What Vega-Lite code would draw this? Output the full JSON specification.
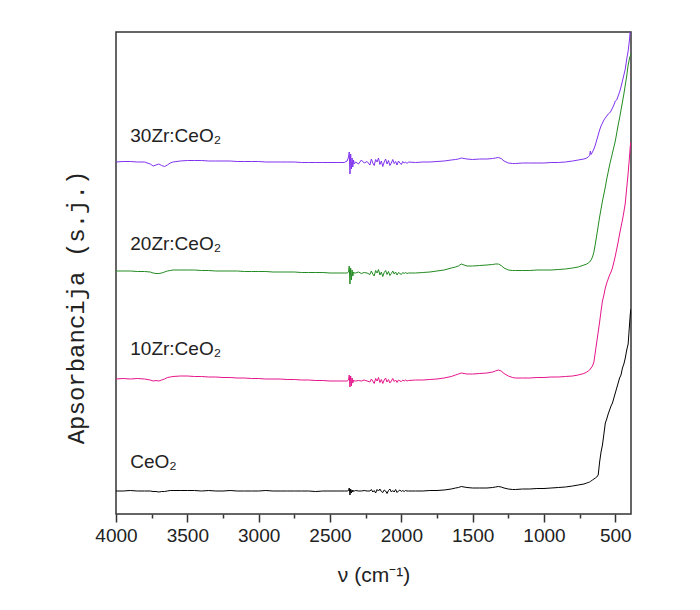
{
  "$schema": "https://vega.github.io/schema/vega-lite/v6.json",
  "width": 515,
  "height": 482,
  "autosize": {"type": "none"},
  "padding": {"left": 116, "top": 32, "right": 69, "bottom": 96},
  "background": "white",
  "config": {
    "view": {"stroke": "#333333", "strokeWidth": 1.5},
    "font": "Liberation Sans"
  },
  "resolve": {"axis": {"x": "independent"}},
  "layer": [
    {
      "data": {"values": [
        {"w":4000,"CeO2":23,"Z10":135,"Z20":243,"Z30":352},
        {"w":3950,"CeO2":23,"Z10":135.5,"Z20":243,"Z30":352.5},
        {"w":3900,"CeO2":23.5,"Z10":135,"Z20":243,"Z30":352.5},
        {"w":3850,"CeO2":23,"Z10":135.5,"Z20":242.5,"Z30":352},
        {"w":3800,"CeO2":23,"Z10":135,"Z20":242.5,"Z30":352},
        {"w":3760,"CeO2":23,"Z10":134,"Z20":242,"Z30":350},
        {"w":3740,"CeO2":22.5,"Z10":133,"Z20":241,"Z30":348},
        {"w":3720,"CeO2":22.5,"Z10":133.5,"Z20":240.5,"Z30":349},
        {"w":3700,"CeO2":22,"Z10":133,"Z20":240.5,"Z30":350},
        {"w":3680,"CeO2":22.5,"Z10":134,"Z20":241,"Z30":348.5},
        {"w":3660,"CeO2":22.5,"Z10":135,"Z20":242,"Z30":347.5},
        {"w":3640,"CeO2":23,"Z10":136.5,"Z20":243,"Z30":349},
        {"w":3620,"CeO2":23.5,"Z10":137,"Z20":243.5,"Z30":351},
        {"w":3600,"CeO2":23.5,"Z10":137.5,"Z20":244,"Z30":352},
        {"w":3550,"CeO2":23.5,"Z10":138,"Z20":244,"Z30":353},
        {"w":3500,"CeO2":23.5,"Z10":138,"Z20":244,"Z30":353.5},
        {"w":3450,"CeO2":23.5,"Z10":137.5,"Z20":244,"Z30":353.5},
        {"w":3400,"CeO2":23,"Z10":137.5,"Z20":243.5,"Z30":353.5},
        {"w":3350,"CeO2":23.5,"Z10":137,"Z20":243.5,"Z30":353},
        {"w":3300,"CeO2":23,"Z10":137,"Z20":243,"Z30":353},
        {"w":3250,"CeO2":23,"Z10":136.5,"Z20":243,"Z30":353},
        {"w":3200,"CeO2":23.5,"Z10":136.5,"Z20":243,"Z30":353},
        {"w":3150,"CeO2":23,"Z10":136,"Z20":243,"Z30":352.5},
        {"w":3100,"CeO2":23,"Z10":136,"Z20":242.5,"Z30":352.5},
        {"w":3050,"CeO2":23,"Z10":135.5,"Z20":242.5,"Z30":352.5},
        {"w":3000,"CeO2":23,"Z10":135.5,"Z20":242.5,"Z30":352.5},
        {"w":2950,"CeO2":23.5,"Z10":135,"Z20":242.5,"Z30":352},
        {"w":2900,"CeO2":23,"Z10":135,"Z20":242,"Z30":352},
        {"w":2850,"CeO2":23,"Z10":135,"Z20":242,"Z30":352},
        {"w":2800,"CeO2":23,"Z10":134.5,"Z20":242,"Z30":352},
        {"w":2750,"CeO2":23,"Z10":134.5,"Z20":242,"Z30":352},
        {"w":2700,"CeO2":23,"Z10":134,"Z20":241.5,"Z30":351.5},
        {"w":2650,"CeO2":23,"Z10":134,"Z20":241.5,"Z30":351.5},
        {"w":2600,"CeO2":22.5,"Z10":133.5,"Z20":241.5,"Z30":351.5},
        {"w":2550,"CeO2":23,"Z10":133.5,"Z20":241.5,"Z30":351.5},
        {"w":2500,"CeO2":23,"Z10":133,"Z20":241,"Z30":351.5},
        {"w":2450,"CeO2":23,"Z10":133,"Z20":241,"Z30":351.5},
        {"w":2400,"CeO2":23,"Z10":133,"Z20":241,"Z30":351.5},
        {"w":2380,"CeO2":23,"Z10":133,"Z20":241,"Z30":353},
        {"w":2370,"CeO2":23.5,"Z10":134,"Z20":242,"Z30":357},
        {"w":2365,"CeO2":26,"Z10":139,"Z20":248,"Z30":362},
        {"w":2360,"CeO2":19,"Z10":127,"Z20":230,"Z30":340},
        {"w":2355,"CeO2":25,"Z10":138,"Z20":246,"Z30":360},
        {"w":2350,"CeO2":21,"Z10":128,"Z20":234,"Z30":345},
        {"w":2345,"CeO2":24,"Z10":136,"Z20":244,"Z30":356},
        {"w":2340,"CeO2":22,"Z10":131,"Z20":238,"Z30":347},
        {"w":2335,"CeO2":23.5,"Z10":134,"Z20":242,"Z30":354},
        {"w":2330,"CeO2":23,"Z10":133,"Z20":241,"Z30":350},
        {"w":2320,"CeO2":23.5,"Z10":133,"Z20":241,"Z30":352},
        {"w":2300,"CeO2":23,"Z10":133.5,"Z20":242,"Z30":350},
        {"w":2280,"CeO2":23,"Z10":133,"Z20":240.5,"Z30":354},
        {"w":2260,"CeO2":23.5,"Z10":134,"Z20":241.5,"Z30":351},
        {"w":2240,"CeO2":23,"Z10":133,"Z20":241,"Z30":352.5},
        {"w":2220,"CeO2":23,"Z10":132,"Z20":239.5,"Z30":349},
        {"w":2210,"CeO2":24.5,"Z10":135,"Z20":243,"Z30":355},
        {"w":2200,"CeO2":22,"Z10":133,"Z20":240,"Z30":351},
        {"w":2190,"CeO2":23.5,"Z10":130.5,"Z20":238,"Z30":348.5},
        {"w":2180,"CeO2":21,"Z10":135.5,"Z20":243.5,"Z30":354.5},
        {"w":2170,"CeO2":24.5,"Z10":133,"Z20":241,"Z30":352},
        {"w":2160,"CeO2":23,"Z10":136.5,"Z20":244.5,"Z30":356},
        {"w":2150,"CeO2":25,"Z10":131.5,"Z20":239,"Z30":349.5},
        {"w":2140,"CeO2":22.5,"Z10":134.5,"Z20":242,"Z30":353},
        {"w":2130,"CeO2":21.5,"Z10":130.5,"Z20":237.5,"Z30":347.5},
        {"w":2120,"CeO2":24,"Z10":134,"Z20":241.5,"Z30":352},
        {"w":2110,"CeO2":23,"Z10":136,"Z20":243.5,"Z30":355},
        {"w":2100,"CeO2":20.5,"Z10":132,"Z20":239.5,"Z30":350},
        {"w":2090,"CeO2":23.5,"Z10":134.5,"Z20":242.5,"Z30":353.5},
        {"w":2080,"CeO2":25,"Z10":131,"Z20":238.5,"Z30":348.5},
        {"w":2070,"CeO2":22,"Z10":133,"Z20":240.5,"Z30":351},
        {"w":2060,"CeO2":23.5,"Z10":135.5,"Z20":243,"Z30":354.5},
        {"w":2050,"CeO2":22,"Z10":132.5,"Z20":240,"Z30":350.5},
        {"w":2040,"CeO2":24.5,"Z10":134,"Z20":242,"Z30":352.5},
        {"w":2030,"CeO2":21.5,"Z10":131.5,"Z20":239,"Z30":349},
        {"w":2020,"CeO2":23,"Z10":134,"Z20":241.5,"Z30":353},
        {"w":2010,"CeO2":24,"Z10":133,"Z20":240.5,"Z30":351},
        {"w":2000,"CeO2":22.5,"Z10":132.5,"Z20":239.5,"Z30":349.5},
        {"w":1990,"CeO2":23.5,"Z10":134,"Z20":241.5,"Z30":352.5},
        {"w":1980,"CeO2":22.5,"Z10":133,"Z20":240.5,"Z30":351},
        {"w":1970,"CeO2":23.5,"Z10":134,"Z20":241.5,"Z30":352},
        {"w":1960,"CeO2":23,"Z10":133,"Z20":240.5,"Z30":350.5},
        {"w":1950,"CeO2":23,"Z10":133.5,"Z20":241,"Z30":352},
        {"w":1900,"CeO2":23,"Z10":134,"Z20":241,"Z30":351.5},
        {"w":1850,"CeO2":23,"Z10":134,"Z20":241.5,"Z30":352},
        {"w":1800,"CeO2":23.5,"Z10":134.5,"Z20":242,"Z30":352},
        {"w":1750,"CeO2":23.5,"Z10":135,"Z20":243,"Z30":352.5},
        {"w":1700,"CeO2":24,"Z10":136,"Z20":244,"Z30":353},
        {"w":1650,"CeO2":25,"Z10":137.5,"Z20":246,"Z30":354},
        {"w":1620,"CeO2":26,"Z10":139,"Z20":247,"Z30":354.5},
        {"w":1600,"CeO2":26.5,"Z10":140,"Z20":248,"Z30":355},
        {"w":1580,"CeO2":27.5,"Z10":141,"Z20":250,"Z30":356},
        {"w":1560,"CeO2":27,"Z10":140.5,"Z20":249,"Z30":355.5},
        {"w":1540,"CeO2":26.5,"Z10":140,"Z20":248,"Z30":355},
        {"w":1500,"CeO2":26,"Z10":140,"Z20":248,"Z30":354.5},
        {"w":1450,"CeO2":26,"Z10":140.5,"Z20":248.5,"Z30":355},
        {"w":1400,"CeO2":26,"Z10":141,"Z20":249,"Z30":355},
        {"w":1360,"CeO2":26.5,"Z10":142,"Z20":249.5,"Z30":355.5},
        {"w":1340,"CeO2":27,"Z10":143,"Z20":250,"Z30":356},
        {"w":1320,"CeO2":27.5,"Z10":144,"Z20":250,"Z30":356.5},
        {"w":1300,"CeO2":27,"Z10":143,"Z20":248.5,"Z30":355.5},
        {"w":1280,"CeO2":26,"Z10":140.5,"Z20":246,"Z30":353},
        {"w":1250,"CeO2":25,"Z10":138,"Z20":244,"Z30":351},
        {"w":1220,"CeO2":24.5,"Z10":136.5,"Z20":243.5,"Z30":350.5},
        {"w":1200,"CeO2":24.5,"Z10":136,"Z20":243.5,"Z30":350.5},
        {"w":1150,"CeO2":25,"Z10":136,"Z20":243.5,"Z30":351},
        {"w":1100,"CeO2":25,"Z10":136,"Z20":243.5,"Z30":351},
        {"w":1050,"CeO2":25.5,"Z10":136.5,"Z20":244,"Z30":351},
        {"w":1000,"CeO2":25.5,"Z10":136.5,"Z20":244,"Z30":351},
        {"w":950,"CeO2":26,"Z10":137,"Z20":244,"Z30":351.5},
        {"w":900,"CeO2":26.5,"Z10":137,"Z20":244.5,"Z30":351.5},
        {"w":850,"CeO2":27,"Z10":137.5,"Z20":245,"Z30":352},
        {"w":800,"CeO2":28,"Z10":138,"Z20":246,"Z30":353},
        {"w":760,"CeO2":29,"Z10":139,"Z20":247,"Z30":354},
        {"w":720,"CeO2":30,"Z10":140.5,"Z20":249,"Z30":355},
        {"w":700,"CeO2":31,"Z10":142,"Z20":250,"Z30":356},
        {"w":690,"CeO2":31.5,"Z10":143,"Z20":251,"Z30":357},
        {"w":680,"CeO2":32,"Z10":144,"Z20":252,"Z30":358.5},
        {"w":675,"CeO2":32.5,"Z10":145,"Z20":253,"Z30":363},
        {"w":670,"CeO2":33,"Z10":146,"Z20":254,"Z30":359.5},
        {"w":660,"CeO2":34,"Z10":148,"Z20":257,"Z30":362},
        {"w":650,"CeO2":35,"Z10":152,"Z20":262,"Z30":365},
        {"w":640,"CeO2":36,"Z10":162,"Z20":270,"Z30":369},
        {"w":630,"CeO2":37,"Z10":172,"Z20":279,"Z30":374},
        {"w":620,"CeO2":39,"Z10":182,"Z20":288,"Z30":379},
        {"w":610,"CeO2":52,"Z10":192,"Z20":297,"Z30":384},
        {"w":600,"CeO2":62,"Z10":203,"Z20":305,"Z30":388},
        {"w":590,"CeO2":69,"Z10":213,"Z20":313,"Z30":391},
        {"w":580,"CeO2":80,"Z10":219,"Z20":320,"Z30":394},
        {"w":570,"CeO2":91,"Z10":226,"Z20":327,"Z30":396},
        {"w":560,"CeO2":95,"Z10":231,"Z20":335,"Z30":398},
        {"w":550,"CeO2":100,"Z10":235,"Z20":342,"Z30":400},
        {"w":540,"CeO2":104,"Z10":239,"Z20":349,"Z30":401},
        {"w":530,"CeO2":108,"Z10":242,"Z20":355,"Z30":403},
        {"w":520,"CeO2":111,"Z10":246,"Z20":361,"Z30":406},
        {"w":510,"CeO2":116,"Z10":252,"Z20":367,"Z30":409},
        {"w":500,"CeO2":121,"Z10":258,"Z20":373,"Z30":413},
        {"w":490,"CeO2":126,"Z10":265,"Z20":381,"Z30":414},
        {"w":480,"CeO2":131,"Z10":272,"Z20":389,"Z30":418},
        {"w":470,"CeO2":136,"Z10":280,"Z20":396,"Z30":422},
        {"w":460,"CeO2":139,"Z10":287,"Z20":404,"Z30":427},
        {"w":450,"CeO2":146,"Z10":294,"Z20":412,"Z30":433},
        {"w":440,"CeO2":150,"Z10":302,"Z20":420,"Z30":439},
        {"w":430,"CeO2":156,"Z10":311,"Z20":429,"Z30":445},
        {"w":420,"CeO2":164,"Z10":326,"Z20":438,"Z30":455},
        {"w":410,"CeO2":170,"Z10":341,"Z20":449,"Z30":463},
        {"w":400,"CeO2":190,"Z10":358,"Z20":456,"Z30":475},
        {"w":395,"CeO2":200,"Z10":368,"Z20":458,"Z30":485},
        {"w":390,"CeO2":205,"Z10":372,"Z20":460,"Z30":500}
      ]},
      "transform": [{"fold": ["CeO2", "Z10", "Z20", "Z30"], "as": ["s", "a"]}],
      "mark": {"type": "line", "strokeWidth": 1, "clip": true},
      "encoding": {
        "x": {
          "field": "w", "type": "quantitative",
          "scale": {"domain": [4000, 390], "nice": false, "zero": false},
          "axis": {
            "orient": "bottom",
            "title": "ν (cm⁻¹)",
            "titleFont": "Liberation Sans",
            "titleFontSize": 21,
            "titleFontWeight": "normal",
            "titleColor": "#222222",
            "titlePadding": 19,
            "values": [4000, 3500, 3000, 2500, 2000, 1500, 1000, 500],
            "format": "d",
            "labelFont": "Liberation Sans",
            "labelFontSize": 19,
            "labelColor": "#222222",
            "labelPadding": 4,
            "labelFlush": false,
            "labelOverlap": false,
            "tickColor": "#333333",
            "tickWidth": 1.5,
            "tickSize": 8,
            "domain": false,
            "grid": false
          }
        },
        "y": {
          "field": "a", "type": "quantitative",
          "scale": {"domain": [0, 482], "nice": false, "zero": false},
          "axis": {
            "title": "Apsorbancija (s.j.)",
            "titleFont": "Liberation Mono",
            "titleFontSize": 24,
            "titleFontWeight": "normal",
            "titleColor": "#222222",
            "titlePadding": 28,
            "titleY": 275,
            "titleAlign": "center",
            "ticks": false,
            "labels": false,
            "domain": false,
            "grid": false
          }
        },
        "color": {
          "field": "s", "type": "nominal",
          "scale": {"domain": ["CeO2", "Z10", "Z20", "Z30"], "range": ["#000000", "#e6158a", "#228b22", "#8033ee"]},
          "legend": null
        }
      }
    },
    {
      "data": {"values": [
        {"w": 3900, "a": 372, "t": "30Zr:CeO₂"},
        {"w": 3900, "a": 264, "t": "20Zr:CeO₂"},
        {"w": 3900, "a": 159, "t": "10Zr:CeO₂"},
        {"w": 3900, "a": 46, "t": "CeO₂"}
      ]},
      "mark": {"type": "text", "align": "left", "baseline": "alphabetic", "fontSize": 19, "font": "Liberation Sans", "color": "#222222"},
      "encoding": {
        "x": {
          "field": "w", "type": "quantitative",
          "axis": {
            "orient": "bottom",
            "title": null,
            "values": [3750, 3250, 2750, 2250, 1750, 1250, 750],
            "labels": false,
            "tickColor": "#333333",
            "tickWidth": 1.5,
            "tickSize": 4,
            "domain": false,
            "grid": false
          }
        },
        "y": {"field": "a", "type": "quantitative"},
        "text": {"field": "t"}
      }
    }
  ]
}
